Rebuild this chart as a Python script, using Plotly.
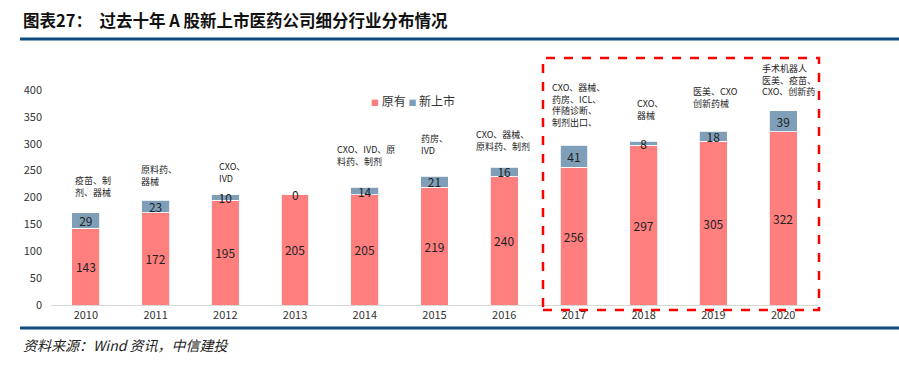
import plotly.graph_objects as go

years = ["2010", "2011", "2012", "2013", "2014", "2015", "2016", "2017", "2018", "2019", "2020"]
existing = [143, 172, 195, 205, 205, 219, 240, 256, 297, 305, 322]
new_listed = [29, 23, 10, 0, 14, 21, 16, 41, 8, 18, 39]
segments = [
    "疫苗、制<br>剂、器械",
    "原料药、<br>器械",
    "CXO、<br>IVD",
    "",
    "CXO、IVD、原<br>料药、制剂",
    "药房、<br>IVD",
    "CXO、器械、<br>原料药、制剂",
    "CXO、器械、<br>药房、ICL、<br>伴随诊断、<br>制剂出口、",
    "CXO、<br>器械",
    "医美、CXO<br>创新药械",
    "手术机器人<br>医美、疫苗、<br>CXO、创新药",
]

W, H = 899, 367
L, R, T, B = 51, 81, 90, 62
pw, ph = W - L - R, H - T - B
def px(x): return (x - L) / pw
def py(y): return (H - B - y) / ph

FONT = "Noto Sans CJK SC, Noto Sans, sans-serif"
RED = "#FF7F7F"
BLUE = "#7F9FB9"

fig = go.Figure()
fig.add_bar(x=years, y=existing, name="原有", marker=dict(color=RED, line=dict(color="white", width=0.8)),
            text=existing, textposition="inside", insidetextanchor="middle", constraintext="none",
            textangle=0, textfont=dict(size=12, color="#222222", family=FONT), showlegend=False)
fig.add_bar(x=years, y=new_listed, name="新上市", marker=dict(color=BLUE, line=dict(color="white", width=0.8)),
            text=new_listed, textposition="inside", insidetextanchor="middle", constraintext="none",
            textangle=0, textfont=dict(size=12, color="#222222", family=FONT), showlegend=False)

# zero-height segments still carry a "0" label in the original
for i, v in enumerate(new_listed):
    if v == 0:
        fig.add_annotation(x=i, y=existing[i] + v, text=str(v), xref="x", yref="y", showarrow=False,
                           yanchor="middle", font=dict(size=12, color="#222222", family=FONT))

xshift = [-13, -17, -8, 0, -30, -16, -30, -24, -9, -22, -23]
yshift = [12, 10, 8, 0, 17, 17, 12, 14, 17, 19, 11]
for i, txt in enumerate(segments):
    if not txt:
        continue
    fig.add_annotation(x=i, y=existing[i] + new_listed[i], text=txt, xref="x", yref="y",
                       xanchor="left", yanchor="bottom", align="left", showarrow=False,
                       xshift=xshift[i], yshift=yshift[i],
                       font=dict(size=9, color="#222222", family=FONT))

# legend (compact, as in the original)
fig.add_annotation(xref="paper", yref="paper", x=px(369), y=py(100), xanchor="left", yanchor="middle",
                   showarrow=False, font=dict(size=12, color="#333333", family=FONT),
                   text=(f"<span style='color:{RED};font-size:8px'>■</span> 原有 "
                         f"<span style='color:{BLUE};font-size:8px'>■</span> 新上市"))

# dashed highlight box
fig.add_shape(type="rect", xref="paper", yref="paper", x0=px(543), x1=px(819), y0=py(310), y1=py(58),
              line=dict(color="#FF0000", width=2.5, dash="dash"), fillcolor="rgba(0,0,0,0)")

# header / footer rules
fig.add_shape(type="line", xref="paper", yref="paper", x0=px(20), x1=px(899), y0=py(39), y1=py(39),
              line=dict(color="#0F4C81", width=3))
fig.add_shape(type="line", xref="paper", yref="paper", x0=px(20), x1=px(899), y0=py(328), y1=py(328),
              line=dict(color="#0F4C81", width=3))

fig.add_annotation(xref="paper", yref="paper", x=px(21), y=py(20), xanchor="left", yanchor="middle",
                   text="<b>图表27：  过去十年 A 股新上市医药公司细分行业分布情况</b>", showarrow=False,
                   font=dict(size=16.5, color="#111111", family=FONT))
fig.add_annotation(xref="paper", yref="paper", x=px(21), y=py(345), xanchor="left", yanchor="middle",
                   text="<i>资料来源：Wind 资讯，中信建投</i>", showarrow=False,
                   font=dict(size=14, color="#222222", family=FONT))

fig.update_layout(
    width=W, height=H, barmode="stack", bargap=0.6,
    margin=dict(l=L, r=R, t=T, b=B, autoexpand=False),
    paper_bgcolor="white", plot_bgcolor="white",
    font=dict(family=FONT, size=11, color="#333333"),
    showlegend=False,
)
fig.update_xaxes(type="category", showline=True, linecolor="#D9D9D9", linewidth=1, ticks="",
                 tickfont=dict(size=11, color="#333333"), showgrid=False, range=[-0.5, 10.5])
fig.update_yaxes(range=[0, 400], dtick=50, showgrid=False, zeroline=False, showline=False,
                 tickfont=dict(size=11, color="#333333"), ticklabelstandoff=8)

fig.write_html("out.html", config={"displayModeBar": False},
               post_script="document.body.style.margin='0';document.body.style.overflow='hidden';")
